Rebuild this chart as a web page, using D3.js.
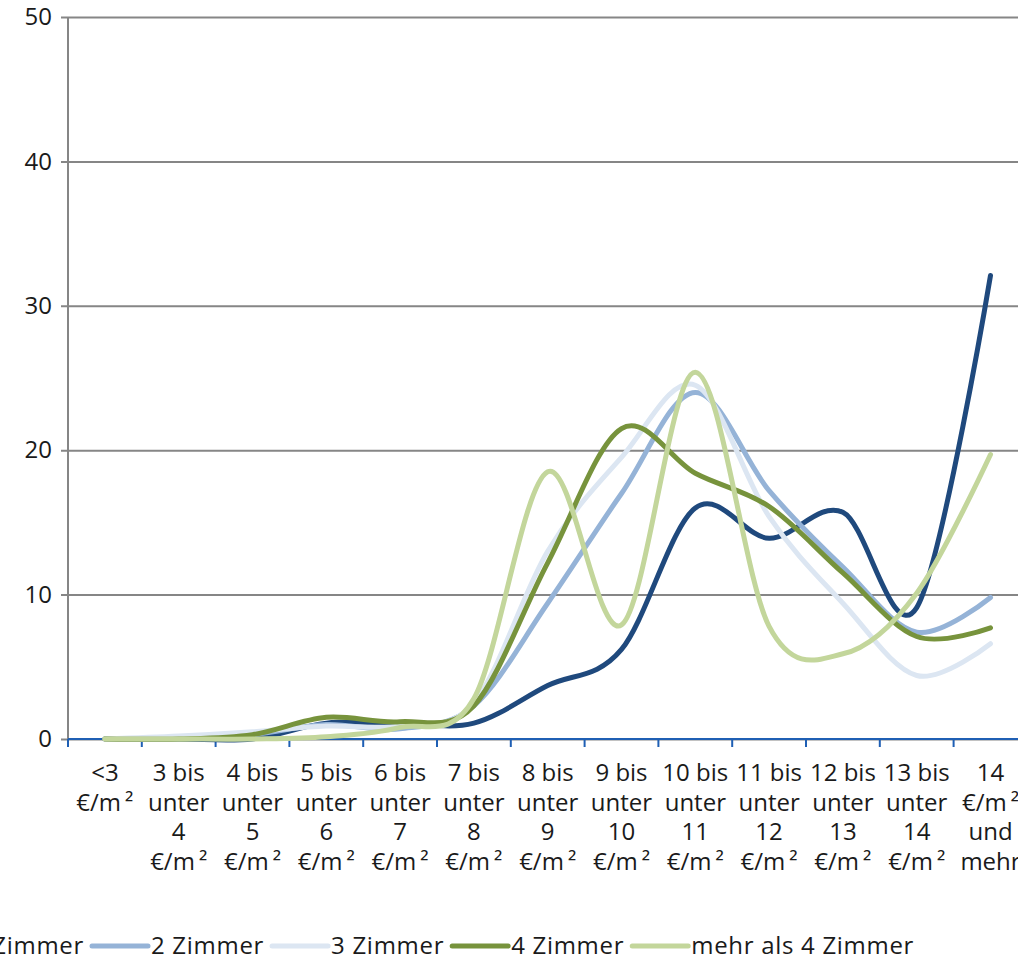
<!DOCTYPE html>
<html>
<head>
<meta charset="utf-8">
<script src="https://cdn.jsdelivr.net/npm/d3@7"></script>
<style>
  body { margin: 0; background: #fff; overflow: hidden; }
  svg { display: block; font-family: "Open Sans", "Noto Sans", sans-serif; }
</style>
</head>
<body>
<script>
// category labels (lines of each label)
var categories = [
  ["<3", "€/m²"],
  ["3 bis", "unter", "4", "€/m²"],
  ["4 bis", "unter", "5", "€/m²"],
  ["5 bis", "unter", "6", "€/m²"],
  ["6 bis", "unter", "7", "€/m²"],
  ["7 bis", "unter", "8", "€/m²"],
  ["8 bis", "unter", "9", "€/m²"],
  ["9 bis", "unter", "10", "€/m²"],
  ["10 bis", "unter", "11", "€/m²"],
  ["11 bis", "unter", "12", "€/m²"],
  ["12 bis", "unter", "13", "€/m²"],
  ["13 bis", "unter", "14", "€/m²"],
  ["14", "€/m²", "und", "mehr"]
];

var yTicks = [0, 10, 20, 30, 40, 50];

var seriesNames = ["1 Zimmer", "2 Zimmer", "3 Zimmer", "4 Zimmer", "mehr als 4 Zimmer"];
var seriesColors = ["#1f497d", "#95b3d7", "#dce6f2", "#77933c", "#c3d69b"];

var zimmer1 = [0, 0, 0, 1.1, 1.1, 1.1, 3.7, 6.2, 16.0, 13.9, 15.7, 9.1, 32.1];
var zimmer2 = [0, 0, 0.3, 1.0, 0.7, 2.3, 9.4, 17.0, 24.0, 17.2, 11.9, 7.4, 9.8];
var zimmer3 = [0, 0.2, 0.5, 0.9, 0.9, 2.5, 13.0, 19.5, 24.5, 15.4, 9.4, 4.4, 6.6];
var zimmer4 = [0, 0, 0.3, 1.5, 1.2, 2.3, 12.2, 21.5, 18.4, 16.1, 11.5, 7.1, 7.7];
var zimmer5 = [0, 0, 0, 0.15, 0.8, 2.8, 18.5, 7.9, 25.4, 7.8, 5.9, 10.1, 19.7];

var seriesValues = [zimmer1, zimmer2, zimmer3, zimmer4, zimmer5];

var width = 1018, height = 961;
var margin = {top: 17, left: 68, bottom: 222};
var bandWidth = 73.8;

var svg = d3.select("body").append("svg")
  .attr("width", width)
  .attr("height", height);

// band scale for the categories
var x = d3.scaleBand()
  .domain(d3.range(categories.length))
  .range([margin.left, margin.left + bandWidth * categories.length])
  .padding(0);

var y = d3.scaleLinear()
  .domain([0, 50])
  .range([height - margin.bottom, margin.top]);

var plotRight = margin.left + bandWidth * categories.length;

// gridlines + y axis
var yAxis = d3.axisLeft(y)
  .tickValues(yTicks)
  .tickSize(-(plotRight - margin.left))
  .tickSizeOuter(0)
  .tickPadding(16);

var gy = svg.append("g")
  .attr("transform", "translate(" + margin.left + ",0)")
  .call(yAxis);
gy.select(".domain").remove();
gy.selectAll(".tick line")
  .attr("x1", -7)
  .attr("stroke", "#868686")
  .attr("stroke-width", 2);
gy.selectAll(".tick text")
  .attr("fill", "#1a1a1a")
  .style("font-size", "24px")
  .style("font-family", "'Open Sans', 'Noto Sans', sans-serif");

// vertical axis line
svg.append("line")
  .attr("x1", margin.left).attr("x2", margin.left)
  .attr("y1", y(50)).attr("y2", y(0))
  .attr("stroke", "#868686")
  .attr("stroke-width", 2);

// x axis (blue) with ticks at category boundaries
var boundaries = d3.range(categories.length + 1);
var xb = d3.scaleLinear()
  .domain([0, categories.length])
  .range([margin.left, plotRight]);

svg.append("line")
  .attr("x1", margin.left).attr("x2", plotRight)
  .attr("y1", y(0)).attr("y2", y(0))
  .attr("stroke", "#1f5fb4")
  .attr("stroke-width", 2);

svg.selectAll(".xtick").data(boundaries)
  .enter().append("line")
  .attr("class", "xtick")
  .attr("x1", function(d) { return xb(d); })
  .attr("x2", function(d) { return xb(d); })
  .attr("y1", y(0))
  .attr("y2", y(0) + 8)
  .attr("stroke", "#1f5fb4")
  .attr("stroke-width", 2);

// category labels
var labels = svg.selectAll(".xlabel").data(categories)
  .enter().append("text")
  .attr("class", "xlabel")
  .attr("text-anchor", "middle")
  .attr("fill", "#1a1a1a")
  .style("font-size", "24px");

labels.each(function(d, i) {
  var t = d3.select(this);
  d.forEach(function(line, j) {
    var ts = t.append("tspan")
      .attr("x", x(i) + x.bandwidth() / 2)
      .attr("y", 781 + j * 29.5);
    // the superscript two sits a bit apart from the m
    if (line.indexOf("²") > -1) {
      ts.append("tspan").text(line.replace("²", ""));
      ts.append("tspan").attr("dx", 4).text("²");
    } else {
      ts.text(line);
    }
  });
});

// lines
var line = d3.line()
  .x(function(d, i) { return x(i) + x.bandwidth() / 2; })
  .y(function(d) { return y(d); })
  .curve(d3.curveCatmullRom.alpha(0));

svg.selectAll(".series").data(seriesValues)
  .enter().append("path")
  .attr("class", "series")
  .attr("d", line)
  .attr("fill", "none")
  .attr("stroke", function(d, i) { return seriesColors[i]; })
  .attr("stroke-width", 5)
  .attr("stroke-linecap", "round")
  .attr("stroke-linejoin", "round");

// legend
var legend = svg.append("g");
var legendY = 946;
var swatch = 56;

var items = legend.selectAll("g").data(seriesNames)
  .enter().append("g");

items.append("line")
  .attr("x1", 0).attr("x2", swatch)
  .attr("y1", legendY).attr("y2", legendY)
  .attr("stroke", function(d, i) { return seriesColors[i]; })
  .attr("stroke-width", 5)
  .attr("stroke-linecap", "round");

items.append("text")
  .attr("x", swatch + 3)
  .attr("y", legendY + 8)
  .attr("fill", "#1a1a1a")
  .style("font-size", "24px")
  .style("letter-spacing", "0.7px")
  .text(function(d) { return d; });

// place items one after another, second swatch starts at x = 92
var widths = [];
items.each(function() {
  widths.push(swatch + 3 + d3.select(this).select("text").node().getComputedTextLength() + 8);
});
var startX = 92 - widths[0];
var pos = startX;
items.attr("transform", function(d, i) {
  var p = pos;
  pos += widths[i];
  return "translate(" + p + ",0)";
});
</script>
</body>
</html>
